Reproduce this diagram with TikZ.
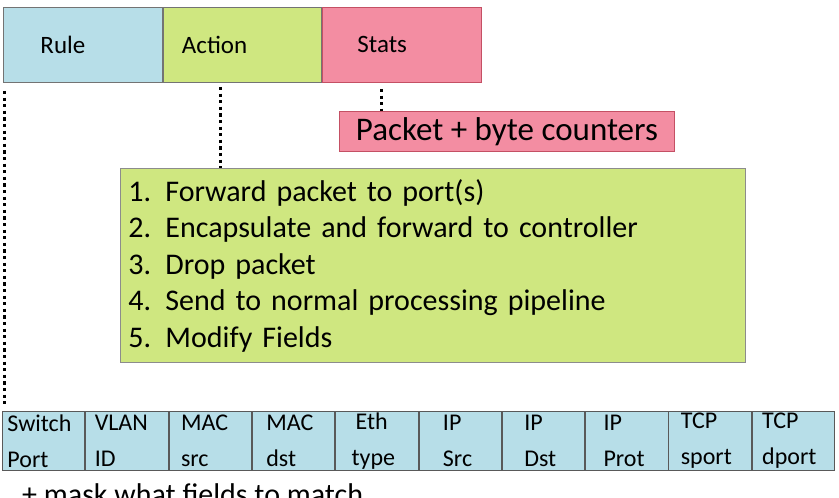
\documentclass[tikz,border=0pt]{standalone}
\usepackage{fontspec}
\setmainfont{Carlito}
\usetikzlibrary{positioning}
\definecolor{ruleblue}{RGB}{183,222,232}
\definecolor{actgreen}{RGB}{207,231,128}
\definecolor{statpink}{RGB}{243,141,162}
\definecolor{pinkline}{RGB}{196,80,100}

\begin{document}
\begin{tikzpicture}[x=1pt, y=-1pt,
    head/.style={draw=black!55, line width=0.9pt, minimum width=158.6pt, minimum height=75pt,
      inner xsep=#1, text width={158.6pt-2*#1}, align=left, font=\fontsize{25}{30}\selectfont},
    field/.style={draw=black!65, fill=ruleblue, line width=0.9pt, minimum height=59pt, inner ysep=0pt,
      inner xsep=#1, text width={82.4pt-2*#1}, align=left, font=\fontsize{24}{36}\selectfont},
    dots/.style={line width=3pt, dash pattern=on 3.2pt off 3.4pt}]
        % Frame
        \useasboundingbox (0,0) rectangle (839,498);
        \clip (0,0) rectangle (839,498);

        % Flow entry
        \node[head=37pt, fill=ruleblue, anchor=north west] (rule) at (3,7) {Rule};
        \node[head=19pt, fill=actgreen, right=0pt of rule] (action) {Action};
        \node[head=35pt, fill=statpink, draw=pinkline, right=0pt of action] (stats) {Stats};

        % Stats and actions
        \node[draw=pinkline, fill=statpink, line width=0.9pt, anchor=north west, minimum width=335pt,
          minimum height=40pt, font=\fontsize{33}{36}\selectfont] (counters) at (339,111) {Packet + byte counters};
        \node[draw=black!45, fill=actgreen, line width=0.9pt, anchor=north west, minimum height=194pt,
          inner xsep=8pt, text width=609pt, align=left, font=\fontsize{30}{36.5}\selectfont] (list) at (120,168)
          {\makebox[37pt][l]{1.}Forward packet to port(s)\\
           \makebox[37pt][l]{2.}Encapsulate and forward to controller\\
           \makebox[37pt][l]{3.}Drop packet\\
           \makebox[37pt][l]{4.}Send to normal processing pipeline\\
           \makebox[37pt][l]{5.}Modify Fields};

        % Header fields
        \node[field=5pt, anchor=north west] (f1) at (2,411) {Switch\\Port};
        \node[field=9pt, right=0pt of f1] (f2) {VLAN\\ID};
        \node[field=12pt, right=0pt of f2] (f3) {MAC\\src};
        \node[field=14pt, right=0pt of f3] (f4) {MAC\\dst};
        \node[field=16pt, right=0pt of f4] (f5) {\hspace*{4pt}Eth\\type};
        \node[field=24pt, right=0pt of f5] (f6) {IP\\Src};
        \node[field=22pt, right=0pt of f6] (f7) {IP\\Dst};
        \node[field=18pt, right=0pt of f7] (f8) {IP\\Prot};
        \node[field=12pt, right=0pt of f8] (f9) {TCP\\sport};
        \node[field=10pt, right=0pt of f9] (f10) {TCP\\dport};
        \node[anchor=base west, inner sep=0pt, font=\fontsize{30}{36}\selectfont] (mask) at (22,504)
          {+ mask what fields to match};

        % Dotted links
        \draw[dots] ([shift={(1,8)}]rule.south west) -- ([shift={(2,-6)}]f1.north west);
        \draw[dots] ([shift={(58,4)}]action.south west) -- ([shift={(58,0)}]action.south west |- list.north);
        \draw[dots] ([shift={(59,6)}]stats.south west) -- ([shift={(59,0)}]stats.south west |- counters.north);
      \end{tikzpicture}
\end{document}
